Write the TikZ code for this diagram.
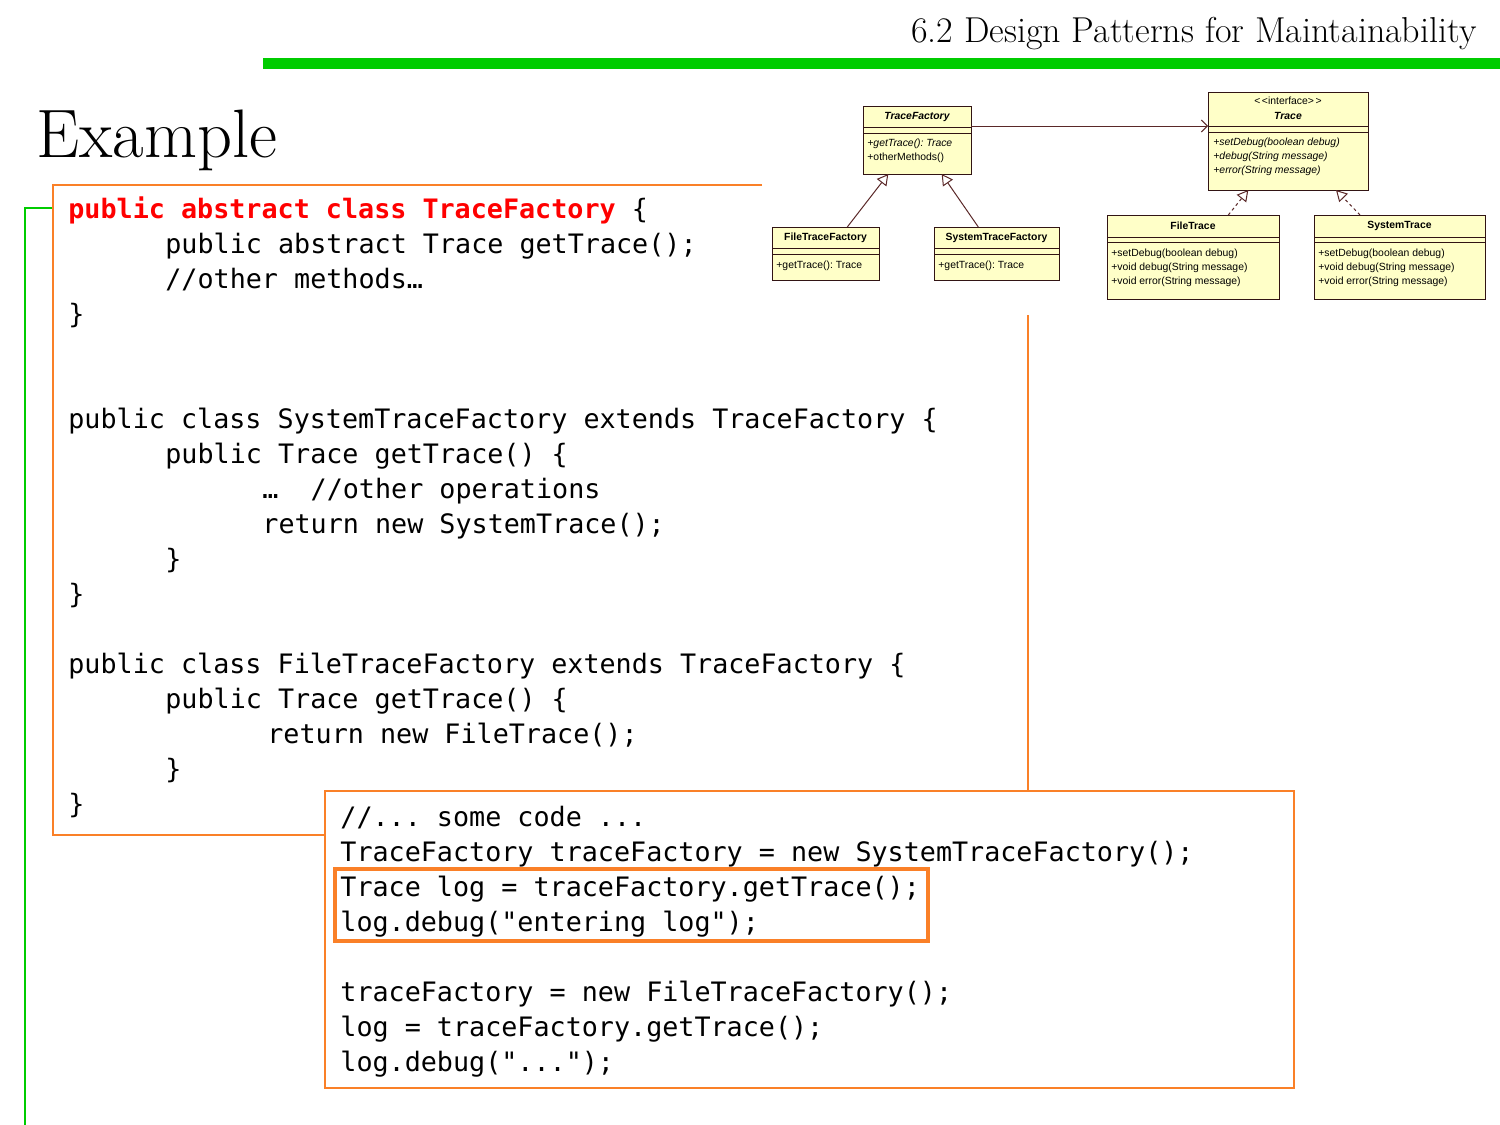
\documentclass[tikz,border=0pt]{standalone}
\usepackage{fontspec}
\newfontfamily\codefont{DejaVu Sans Mono}
\newfontfamily\umlfont{Liberation Sans}
\usetikzlibrary{arrows.meta,calc}
\definecolor{boxorange}{RGB}{250,128,40}
\definecolor{bargreen}{RGB}{0,204,0}
\definecolor{umlfill}{RGB}{255,255,200}
\definecolor{umlborder}{RGB}{50,20,20}
\definecolor{umlline}{RGB}{90,40,40}
\definecolor{codered}{RGB}{255,0,0}
\frenchspacing
\begin{document}
\begin{tikzpicture}[x=0.5pt,y=-0.5pt,
  code/.style={anchor=base west,inner sep=0pt,font=\codefont\fontsize{13.37}{16}\selectfont},
  umlbox/.style={draw=umlborder,fill=umlfill,line width=0.5pt,anchor=north west,inner sep=0pt,outer sep=0pt},
  umlsep/.style={draw=umlborder,line width=0.5pt},
  umltxt/.style={inner sep=0pt,font=\umlfont\fontsize{5.2}{6}\selectfont},
  umlname/.style={umltxt,font=\umlfont\bfseries\fontsize{5.2}{6}\selectfont},
  umlmeth/.style={umltxt,anchor=west},
  gen/.style={draw=umlline,line width=0.5pt,-{Triangle[open,length=5.5pt,width=6pt]}},
  real/.style={gen,dash pattern=on 1.5pt off 1.5pt},
  assoc/.style={draw=umlline,line width=0.5pt,-{Straight Barb[length=3pt,width=6pt]}},
  orangebox/.style={draw=boxorange,line width=1pt}]
\useasboundingbox (0,0) rectangle (1500,1125);

% header
\node[anchor=base east,inner sep=0pt,font=\fontsize{18}{21}\selectfont] (head) at (1477,42) {6.2 Design Patterns for Maintainability};
\fill[bargreen] (263,58) rectangle (1500,69);
\node[anchor=base west,inner sep=0pt,font=\fontsize{34.3}{40}\selectfont] (title) at (36,157) {Example};

% green bracket
\draw[bargreen,line width=1pt] (53,208) -- (25,208) -- (25,1125);

% code box 1 (partly hidden)
\draw[orangebox] (762,185) -- (53,185) -- (53,835) -- (325,835);
\draw[orangebox] (1028,315) -- (1028,791);

\node[code] (c1) at (68,218) {\textcolor{codered}{\bfseries public abstract class TraceFactory} \{};
\node[code] (c2) at (165,253) {public abstract Trace getTrace();};
\node[code] (c3) at (165,288) {//other methods…};
\node[code] (c4) at (68,323) {\}};
\node[code] (c7) at (68,428) {public class SystemTraceFactory extends TraceFactory \{};
\node[code] (c8) at (165,463) {public Trace getTrace() \{};
\node[code] (c9) at (262,498) {…~~//other operations};
\node[code] (c10) at (262,533) {return new SystemTrace();};
\node[code] (c11) at (165,568) {\}};
\node[code] (c12) at (68,603) {\}};
\node[code] (c14) at (68,673) {public class FileTraceFactory extends TraceFactory \{};
\node[code] (c15) at (165,708) {public Trace getTrace() \{};
\node[code] (c16) at (267,743) {return new FileTrace();};
\node[code] (c17) at (165,778) {\}};
\node[code] (c18) at (68,813) {\}};

% code box 2
\draw[orangebox,fill=white] (325,791) rectangle (1294,1088);
\draw[boxorange,line width=2pt] (335,869) rectangle (928,941);
\node[code] (d1) at (340,826) {//... some code ...};
\node[code] (d2) at (340,861) {TraceFactory traceFactory = new SystemTraceFactory();};
\node[code] (d3) at (340,896) {Trace log = traceFactory.getTrace();};
\node[code] (d4) at (340,931) {log.debug("entering log");};
\node[code] (d5) at (340,1001) {traceFactory = new FileTraceFactory();};
\node[code] (d6) at (340,1036) {log = traceFactory.getTrace();};
\node[code] (d7) at (340,1071) {log.debug("...");};

% UML diagram
\node[umlbox,minimum width=54pt,minimum height=34pt] (tf) at (863,106) {};
\draw[umlsep] ($(tf.north west)+(0,21)$) -- ($(tf.north east)+(0,21)$);
\draw[umlsep] ($(tf.north west)+(0,27)$) -- ($(tf.north east)+(0,27)$);
\node[umltxt,font=\umlfont\bfseries\itshape\fontsize{5.2}{6}\selectfont] (tfn) at (917,116.5) {TraceFactory};
\node[umlmeth,font=\umlfont\itshape\fontsize{5.2}{6}\selectfont] (tfm1) at (867,144) {+getTrace(): Trace};
\node[umlmeth] (tfm2) at (867,157.5) {+otherMethods()};

\node[umlbox,minimum width=53.5pt,minimum height=26.5pt] (ftf) at (772,227) {};
\draw[umlsep] ($(ftf.north west)+(0,21)$) -- ($(ftf.north east)+(0,21)$);
\draw[umlsep] ($(ftf.north west)+(0,27)$) -- ($(ftf.north east)+(0,27)$);
\node[umlname] (ftfn) at (825.5,238) {FileTraceFactory};
\node[umlmeth] (ftfm) at (776,265.5) {+getTrace(): Trace};

\node[umlbox,minimum width=62.5pt,minimum height=26.5pt] (stf) at (934,227) {};
\draw[umlsep] ($(stf.north west)+(0,21)$) -- ($(stf.north east)+(0,21)$);
\draw[umlsep] ($(stf.north west)+(0,27)$) -- ($(stf.north east)+(0,27)$);
\node[umlname] (stfn) at (996.5,238) {SystemTraceFactory};
\node[umlmeth] (stfm) at (938,265.5) {+getTrace(): Trace};

\node[umlbox,minimum width=80pt,minimum height=49pt] (tr) at (1208,92) {};
\draw[umlsep] ($(tr.north west)+(0,34)$) -- ($(tr.north east)+(0,34)$);
\draw[umlsep] ($(tr.north west)+(0,40)$) -- ($(tr.north east)+(0,40)$);
\node[umltxt] (trs) at (1288,101) {<\kern0.8pt<interface>\kern0.8pt>};
\node[umltxt,font=\umlfont\bfseries\itshape\fontsize{5.2}{6}\selectfont] (trn) at (1288,115.5) {Trace};
\node[umlmeth,font=\umlfont\itshape\fontsize{5.2}{6}\selectfont] (trm1) at (1213,143) {+setDebug(boolean debug)};
\node[umlmeth,font=\umlfont\itshape\fontsize{5.2}{6}\selectfont] (trm2) at (1213,157) {+debug(String message)};
\node[umlmeth,font=\umlfont\itshape\fontsize{5.2}{6}\selectfont] (trm3) at (1213,171) {+error(String message)};

\node[umlbox,minimum width=86pt,minimum height=42pt] (ft) at (1107,215) {};
\draw[umlsep] ($(ft.north west)+(0,22)$) -- ($(ft.north east)+(0,22)$);
\draw[umlsep] ($(ft.north west)+(0,27)$) -- ($(ft.north east)+(0,27)$);
\node[umlname] (ftn) at (1193,226) {FileTrace};
\node[umlmeth] (ftm1) at (1111,253.5) {+setDebug(boolean debug)};
\node[umlmeth] (ftm2) at (1111,267.5) {+void debug(String message)};
\node[umlmeth] (ftm3) at (1111,281.5) {+void error(String message)};

\node[umlbox,minimum width=85.5pt,minimum height=42pt] (st) at (1314,215) {};
\draw[umlsep] ($(st.north west)+(0,22)$) -- ($(st.north east)+(0,22)$);
\draw[umlsep] ($(st.north west)+(0,27)$) -- ($(st.north east)+(0,27)$);
\node[umlname] (stn) at (1399.5,226) {SystemTrace};
\node[umlmeth] (stm1) at (1318,253.5) {+setDebug(boolean debug)};
\node[umlmeth] (stm2) at (1318,267.5) {+void debug(String message)};
\node[umlmeth] (stm3) at (1318,281.5) {+void error(String message)};

% connectors
\draw[gen] ($(ftf.north west)+(75.3,0)$) -- ($(tf.south west)+(25.3,0)$);
\draw[gen] ($(stf.north west)+(44.3,0)$) -- ($(tf.south west)+(78.7,0)$);
\draw[assoc] ($(tf.north east)+(0,20)$) -- ($(tr.north west)+(0,34)$);
\draw[real] ($(ft.north west)+(121.3,0)$) -- ($(tr.south west)+(40.3,0)$);
\draw[real] ($(st.north west)+(46,0)$) -- ($(tr.south west)+(128,0)$);
\end{tikzpicture}
\end{document}
